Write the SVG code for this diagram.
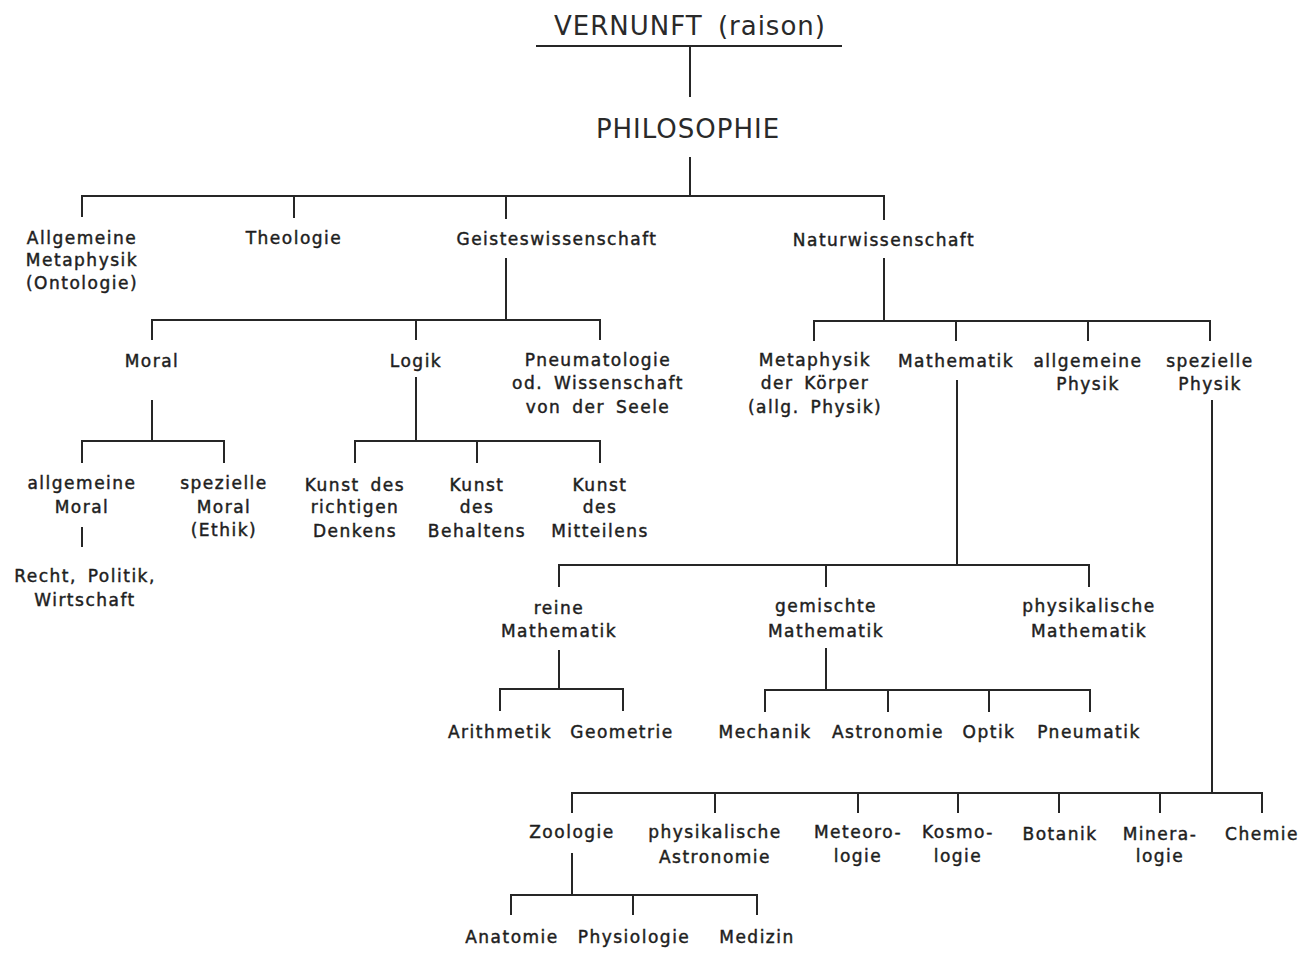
<svg xmlns="http://www.w3.org/2000/svg" width="1313" height="953" viewBox="0 0 1313 953">
<style>
.t{font-family:"DejaVu Sans","Liberation Sans",sans-serif;font-size:17px;fill:#1e1e1e;stroke:#1e1e1e;stroke-width:0.45;text-anchor:middle;letter-spacing:1.5px;word-spacing:4px}
.h{font-family:"DejaVu Sans","Liberation Sans",sans-serif;font-size:26px;fill:#2a2a2a;text-anchor:middle;letter-spacing:1px;word-spacing:6px}
.c{fill:none;stroke:#262626;stroke-width:2}
</style>
<rect width="1313" height="953" fill="#ffffff"/>
<g id="connectors" class="c">
<path d="M536 46H842M690 46V97"/>
<path d="M690 157V196M82 217V196H884V220M294 196V218M506 196V219"/>
<path d="M506 258V320M152 340V320H600V340M416 320V340"/>
<path d="M152 400V441M82 463V441H224V463M82 527V547"/>
<path d="M416 377V441M355 463V441H600V463M477 441V463"/>
<path d="M884 258V321M814 341V321H1210V341M956 321V341M1088 321V341"/>
<path d="M957 380V565M559 587V565H1089V587M826 565V587"/>
<path d="M559 650V689M500 711V689H623V711"/>
<path d="M826 648V690M765 712V690H1090V712M888 690V712M989 690V712"/>
<path d="M1212 400V793M572 813V793H1262V813M715 793V813M858 793V813M958 793V813M1059 793V813M1160 793V813"/>
<path d="M572 853V895M511 915V895H757V915M633 895V915"/>
</g>
<g id="vernunft"><text class="h" x="690" y="35">VERNUNFT (raison)</text></g>
<g id="philosophie"><text class="h" x="688" y="138">PHILOSOPHIE</text></g>
<g id="allg-metaphysik"><text class="t" x="82" y="244">Allgemeine</text><text class="t" x="82" y="266">Metaphysik</text><text class="t" x="82" y="289">(Ontologie)</text></g>
<g id="theologie"><text class="t" x="294" y="244">Theologie</text></g>
<g id="geisteswissenschaft"><text class="t" x="557" y="245">Geisteswissenschaft</text></g>
<g id="naturwissenschaft"><text class="t" x="884" y="246">Naturwissenschaft</text></g>
<g id="moral"><text class="t" x="152" y="367">Moral</text></g>
<g id="logik"><text class="t" x="416" y="367">Logik</text></g>
<g id="pneumatologie"><text class="t" x="598" y="366">Pneumatologie</text><text class="t" x="598" y="389">od. Wissenschaft</text><text class="t" x="598" y="413">von der Seele</text></g>
<g id="allg-moral"><text class="t" x="82" y="489">allgemeine</text><text class="t" x="82" y="513">Moral</text></g>
<g id="recht"><text class="t" x="85" y="582">Recht, Politik,</text><text class="t" x="85" y="606">Wirtschaft</text></g>
<g id="spez-moral"><text class="t" x="224" y="489">spezielle</text><text class="t" x="224" y="513">Moral</text><text class="t" x="224" y="536">(Ethik)</text></g>
<g id="denken"><text class="t" x="355" y="491">Kunst des</text><text class="t" x="355" y="513">richtigen</text><text class="t" x="355" y="537">Denkens</text></g>
<g id="behalten"><text class="t" x="477" y="491">Kunst</text><text class="t" x="477" y="513">des</text><text class="t" x="477" y="537">Behaltens</text></g>
<g id="mitteilen"><text class="t" x="600" y="491">Kunst</text><text class="t" x="600" y="513">des</text><text class="t" x="600" y="537">Mitteilens</text></g>
<g id="metaphysik-koerper"><text class="t" x="815" y="366">Metaphysik</text><text class="t" x="815" y="389">der Körper</text><text class="t" x="815" y="413">(allg. Physik)</text></g>
<g id="mathematik"><text class="t" x="956" y="367">Mathematik</text></g>
<g id="allg-physik"><text class="t" x="1088" y="367">allgemeine</text><text class="t" x="1088" y="390">Physik</text></g>
<g id="spez-physik"><text class="t" x="1210" y="367">spezielle</text><text class="t" x="1210" y="390">Physik</text></g>
<g id="reine"><text class="t" x="559" y="614">reine</text><text class="t" x="559" y="637">Mathematik</text></g>
<g id="gemischte"><text class="t" x="826" y="612">gemischte</text><text class="t" x="826" y="637">Mathematik</text></g>
<g id="phys-math"><text class="t" x="1089" y="612">physikalische</text><text class="t" x="1089" y="637">Mathematik</text></g>
<g id="arithmetik"><text class="t" x="500" y="738">Arithmetik</text></g>
<g id="geometrie"><text class="t" x="622" y="738">Geometrie</text></g>
<g id="mechanik"><text class="t" x="765" y="738">Mechanik</text></g>
<g id="astronomie"><text class="t" x="888" y="738">Astronomie</text></g>
<g id="optik"><text class="t" x="989" y="738">Optik</text></g>
<g id="pneumatik"><text class="t" x="1089" y="738">Pneumatik</text></g>
<g id="zoologie"><text class="t" x="572" y="838">Zoologie</text></g>
<g id="phys-astronomie"><text class="t" x="715" y="838">physikalische</text><text class="t" x="715" y="863">Astronomie</text></g>
<g id="meteorologie"><text class="t" x="858" y="838">Meteoro-</text><text class="t" x="858" y="862">logie</text></g>
<g id="kosmologie"><text class="t" x="958" y="838">Kosmo-</text><text class="t" x="958" y="862">logie</text></g>
<g id="botanik"><text class="t" x="1060" y="840">Botanik</text></g>
<g id="mineralogie"><text class="t" x="1160" y="840">Minera-</text><text class="t" x="1160" y="862">logie</text></g>
<g id="chemie"><text class="t" x="1262" y="840">Chemie</text></g>
<g id="anatomie"><text class="t" x="512" y="943">Anatomie</text></g>
<g id="physiologie"><text class="t" x="634" y="943">Physiologie</text></g>
<g id="medizin"><text class="t" x="757" y="943">Medizin</text></g>
</svg>
